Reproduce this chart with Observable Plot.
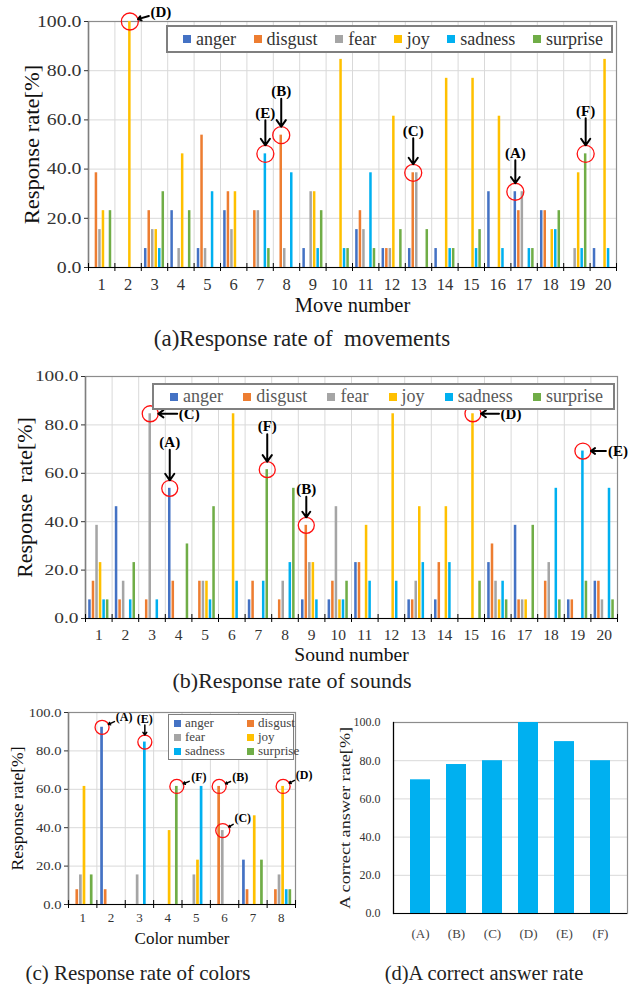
<!DOCTYPE html>
<html>
<head>
<meta charset="utf-8">
<script src="https://cdn.jsdelivr.net/npm/d3@7"></script>
<script src="https://cdn.jsdelivr.net/npm/@observablehq/plot@0.6"></script>
<style>
html,body{margin:0;padding:0;background:#fff;}
#page{position:relative;width:642px;height:984px;overflow:hidden;background:#fff;font-family:"Liberation Serif","Times New Roman",serif;color:#222;}
.panel{position:absolute;}
.panel svg{overflow:visible;}
.cap{position:absolute;white-space:pre;text-align:center;color:#222;}
.legend{position:absolute;background:#fff;box-sizing:border-box;}
.sw{display:inline-block;width:7px;height:7px;margin-right:4px;flex:none;}
.item{display:flex;align-items:center;white-space:nowrap;}
</style>
</head>
<body>
<div id="page"></div>
<script>
// ---------- data ----------
const emotions = ["anger","disgust","fear","joy","sadness","surprise"];
const emotionColors = ["#4472c4","#ed7d31","#a5a5a5","#ffc000","#00b0f0","#70ad47"];
const yTicks = [0,20,40,60,80,100];

// (a) movements
const moveNumbers = [1,2,3,4,5,6,7,8,9,10,11,12,13,14,15,16,17,18,19,20];
const moveAnger    = [0,0,7.7,23.1,7.7,23.1,0,0,7.7,0,15.4,7.7,7.7,7.7,0,30.8,30.8,23.1,0,7.7];
const moveDisgust  = [38.5,0,23.1,0,53.8,30.8,23.1,53.8,0,0,23.1,7.7,38.5,0,0,0,23.1,23.1,0,0];
const moveFear     = [15.4,0,15.4,7.7,7.7,15.4,23.1,7.7,30.8,0,15.4,7.7,38.5,0,0,0,30.8,0,7.7,0];
const moveJoy      = [23.1,100,15.4,46.2,0,30.8,0,0,30.8,84.6,0,61.5,0,76.9,76.9,61.5,0,15.4,38.5,84.6];
const moveSadness  = [0,0,7.7,0,30.8,0,46.2,38.5,7.7,7.7,38.5,0,0,7.7,7.7,7.7,7.7,15.4,7.7,7.7];
const moveSurprise = [23.1,0,30.8,23.1,0,0,7.7,0,23.1,7.7,7.7,15.4,15.4,7.7,15.4,0,7.7,23.1,46.2,0];

// (b) sounds
const soundNumbers = [1,2,3,4,5,6,7,8,9,10,11,12,13,14,15,16,17,18,19,20];
const soundAnger    = [7.7,46.2,0,53.8,0,0,7.7,0,7.7,7.7,23.1,0,7.7,7.7,0,23.1,38.5,0,7.7,15.4];
const soundDisgust  = [15.4,7.7,7.7,15.4,15.4,0,15.4,7.7,38.5,15.4,23.1,0,7.7,23.1,0,30.8,7.7,15.4,7.7,15.4];
const soundFear     = [38.5,15.4,84.6,0,15.4,0,0,15.4,23.1,46.2,0,0,15.4,0,0,15.4,7.7,23.1,0,7.7];
const soundJoy      = [23.1,0,0,0,15.4,84.6,0,0,23.1,7.7,38.5,84.6,46.2,46.2,84.6,7.7,7.7,0,0,0];
const soundSadness  = [7.7,7.7,7.7,0,7.7,15.4,15.4,23.1,7.7,7.7,15.4,15.4,23.1,23.1,0,15.4,0,53.8,69.2,53.8];
const soundSurprise = [7.7,23.1,0,30.8,46.2,0,61.5,53.8,0,15.4,0,0,0,0,15.4,7.7,38.5,7.7,15.4,7.7];

// (c) colors
const colorNumbers = [1,2,3,4,5,6,7,8];
const colorAnger    = [0,92.3,0,0,0,0,23.1,0];
const colorDisgust  = [7.7,7.7,0,0,0,61.5,7.7,7.7];
const colorFear     = [15.4,0,15.4,0,15.4,38.5,0,15.4];
const colorJoy      = [61.5,0,0,38.5,23.1,0,46.2,61.5];
const colorSadness  = [0,0,84.6,0,61.5,0,0,7.7];
const colorSurprise = [15.4,0,0,61.5,0,0,23.1,7.7];

// (d) correct answer rate
const answerLabels = ["(A)","(B)","(C)","(D)","(E)","(F)"];
const answerRates  = [70,78,80,100,90,80];

// annotation targets
const moveMarks = [
  {label:"(D)", group:2,  series:"joy"},
  {label:"(E)", group:7,  series:"sadness"},
  {label:"(B)", group:8,  series:"disgust"},
  {label:"(C)", group:13, series:"disgust"},
  {label:"(A)", group:17, series:"anger"},
  {label:"(F)", group:19, series:"surprise"}
];
const soundMarks = [
  {label:"(C)", group:3,  series:"fear"},
  {label:"(A)", group:4,  series:"anger"},
  {label:"(F)", group:7,  series:"surprise"},
  {label:"(B)", group:9,  series:"disgust"},
  {label:"(D)", group:15, series:"joy"},
  {label:"(E)", group:19, series:"sadness"}
];
const colorMarks = [
  {label:"(A)", group:2, series:"anger"},
  {label:"(E)", group:3, series:"sadness"},
  {label:"(F)", group:4, series:"surprise"},
  {label:"(B)", group:6, series:"disgust"},
  {label:"(C)", group:6, series:"fear"},
  {label:"(D)", group:8, series:"joy"}
];

// ---------- layout (pixel offsets of annotation labels from circle) ----------
const moveMarkOffsets  = [[31,-9],[0,-41],[0,-44],[0,-42],[0,-39],[0,-43]];
const soundMarkOffsets = [[39,0],[0,-46],[0,-43],[0,-36],[38,0],[35,0]];
const colorMarkOffsets = [[22,-10],[0,-23],[22,-9],[21,-9],[20,-12],[21,-11]];

const FONT = '"Liberation Serif","Times New Roman",serif';
const page = document.getElementById("page");

// horizontal stretch of text along its reading direction
function stretch(root, selector, sx) {
  root.querySelectorAll(selector).forEach(t => {
    let tr = t.getAttribute("transform");
    if (!tr) {
      const x = t.getAttribute("x") || 0, y = t.getAttribute("y") || 0;
      t.removeAttribute("x"); t.removeAttribute("y");
      tr = `translate(${x},${y})`;
    }
    t.setAttribute("transform", tr + ` scale(${sx},1)`);
  });
}

function buildRows(groups, series) {
  const rows = [];
  groups.forEach((g, i) => emotions.forEach((e, k) => rows.push({group: g, k, emotion: e, value: series[k][i]})));
  return rows;
}

function groupedPanel(cfg) {
  const {groups, series, left, top, width, height, ml, mr, mt, mb, tickFont, labelFont,
         yLabel, yLabelX, xLabel, xTickPad, xLabelDy, marks, offsets, annFont, r, step, barW, arrowW, headLen,
         yTickStretch, yLabelStretch, xLabelFont} = cfg;
  const n = groups.length;
  const plotW = width - ml - mr, plotH = height - mt - mb;
  const ux = n / plotW, uy = 100 / plotH;
  const rows = buildRows(groups, series).filter(d => d.value > 0);
  const bounds = [groups[0] - 0.5, ...groups.map(g => g + 0.5)];
  const ann = marks.map((a, i) => {
    const k = emotions.indexOf(a.series);
    const gi = groups.indexOf(a.group);
    const cx = a.group + (k - 2.5) * step;
    const cy = series[k][gi];
    const [dx, dy] = offsets[i];
    const L = Math.hypot(dx, dy);
    const vx = -dx / L, vy = -dy / L; // label -> circle direction (px)
    const hw = annFont * 0.8, hh = annFont * 0.5;
    const gap = Math.min(Math.abs(vx) > 1e-6 ? hw / Math.abs(vx) : Infinity,
                         Math.abs(vy) > 1e-6 ? hh / Math.abs(vy) : Infinity);
    const sx = dx + vx * gap, sy = dy + vy * gap;
    const ex = -vx * r, ey = -vy * r;
    return {label: a.label, cx, cy,
      lx: cx + dx * ux, ly: cy - dy * uy,
      ax1: cx + sx * ux, ay1: cy - sy * uy,
      ax2: cx + ex * ux, ay2: cy - ey * uy};
  });
  const plot = Plot.plot({
    width, height, marginLeft: ml, marginRight: mr, marginTop: mt, marginBottom: mb,
    style: {fontFamily: FONT, background: "transparent", color: "#262626", overflow: "visible"},
    x: {domain: [groups[0] - 0.5, groups[n - 1] + 0.5]},
    y: {domain: [0, 100]},
    color: {domain: emotions, range: emotionColors},
    marks: [
      Plot.ruleY(yTicks.slice(1), {stroke: "#d9d9d9", strokeWidth: 1}),
      Plot.ruleX(bounds, {stroke: "#d9d9d9", strokeWidth: 1}),
      Plot.frame({stroke: "#8c8c8c", strokeWidth: 1.2}),
      Plot.rectY(rows, {
        x1: d => d.group + (d.k - 2.5) * step - barW / 2,
        x2: d => d.group + (d.k - 2.5) * step + barW / 2,
        y: "value", fill: "emotion"
      }),
      Plot.ruleX([groups[0] - 0.5], {stroke: "#7f7f7f", strokeWidth: 1.5}),
      Plot.ruleY([0], {stroke: "#000", strokeWidth: 1.2}),
      Plot.ruleX(bounds, {y1: -4 * uy, y2: 4 * uy, stroke: "#000", strokeWidth: 1}),
      Plot.axisY({ticks: yTicks, tickSize: 4, tickPadding: 3, tickFormat: d3.format(".1f"),
                  fontSize: tickFont, fontFamily: FONT, label: null, color: "#333"}),
      Plot.axisX({ticks: groups, tickSize: 0, tickPadding: xTickPad, tickFormat: d => String(d),
                  fontSize: tickFont, fontFamily: FONT, label: null, color: "#333"}),
      Plot.text([yLabel], {text: d => d, frameAnchor: "left", textAnchor: "middle", rotate: -90,
                  dx: -(ml - yLabelX), fontSize: labelFont, fontFamily: FONT, fill: "#111"}),
      Plot.text([xLabel], {text: d => d, frameAnchor: "bottom", textAnchor: "middle", dy: xLabelDy,
                  fontSize: xLabelFont || labelFont, fontFamily: FONT, fill: "#111"}),
      Plot.dot(ann, {x: "cx", y: "cy", r, stroke: "#ff1010", fill: "none", strokeWidth: 1.3}),
      Plot.arrow(ann, {x1: "ax1", y1: "ay1", x2: "ax2", y2: "ay2", stroke: "#000",
                  strokeWidth: arrowW, headLength: headLen, headAngle: 70}),
      Plot.text(ann, {x: "lx", y: "ly", text: "label", fontWeight: "bold", fontSize: annFont,
                  fontFamily: FONT, fill: "#000"})
    ]
  });
  stretch(plot, 'g[aria-label="y-axis tick label"] text', yTickStretch);
  plot.querySelectorAll("text").forEach(t => { if (t.textContent === yLabel) stretch(t.parentNode, "text", yLabelStretch); });
  const div = document.createElement("div");
  div.className = "panel";
  div.style.left = left + "px";
  div.style.top = top + "px";
  div.appendChild(plot);
  page.appendChild(div);
}

function rowLegend({left, top, width, height, fontSize, color, border, padL, padR}) {
  const box = document.createElement("div");
  box.className = "legend";
  Object.assign(box.style, {left: left + "px", top: top + "px", width: width + "px", height: height + "px",
    border, fontSize: fontSize + "px", color, display: "flex", alignItems: "center",
    justifyContent: "space-between", paddingLeft: padL + "px", paddingRight: padR + "px"});
  emotions.forEach((e, i) => {
    const it = document.createElement("div"); it.className = "item";
    const sw = document.createElement("span"); sw.className = "sw"; sw.style.background = emotionColors[i];
    sw.style.width = "8px"; sw.style.height = "8px"; sw.style.marginRight = "5px";
    it.appendChild(sw); it.appendChild(document.createTextNode(e));
    box.appendChild(it);
  });
  page.appendChild(box);
}

function gridLegend({left, top, width, height, fontSize, color, border}) {
  const box = document.createElement("div");
  box.className = "legend";
  Object.assign(box.style, {left: left + "px", top: top + "px", width: width + "px", height: height + "px",
    border, fontSize: fontSize + "px", color, display: "grid", gridTemplateColumns: "73px 1fr",
    alignContent: "center", padding: "0 0 0 5px", lineHeight: "14px"});
  emotions.forEach((e, i) => {
    const it = document.createElement("div"); it.className = "item";
    const sw = document.createElement("span"); sw.className = "sw"; sw.style.background = emotionColors[i];
    it.appendChild(sw); it.appendChild(document.createTextNode(e));
    box.appendChild(it);
  });
  page.appendChild(box);
}

function caption(text, cx, cy, fontSize) {
  const d = document.createElement("div");
  d.className = "cap";
  Object.assign(d.style, {left: (cx - 250) + "px", width: "500px", top: (cy - fontSize * 0.45) + "px",
    fontSize: fontSize + "px", lineHeight: (fontSize * 0.9) + "px"});
  d.textContent = text;
  page.appendChild(d);
}

// (a)
groupedPanel({groups: moveNumbers,
  series: [moveAnger, moveDisgust, moveFear, moveJoy, moveSadness, moveSurprise],
  left: 0, top: 0, width: 642, height: 320, ml: 88, mr: 26, mt: 21, mb: 53,
  tickFont: 16.5, labelFont: 20.5, yLabel: "Response rate[%]", yLabelX: 32, xLabel: "Move number",
  xTickPad: 11, xLabelDy: 44, marks: moveMarks, offsets: moveMarkOffsets, annFont: 15, r: 8.5,
  step: 0.133, barW: 0.095, arrowW: 2, headLen: 6, yTickStretch: 1.2, yLabelStretch: 1.1});
rowLegend({left: 166, top: 25, width: 447, height: 28, fontSize: 18, color: "#333",
  border: "2px solid #7f7f7f", padL: 15, padR: 8});
caption("(a)Response rate of  movements", 302, 339, 23);

// (b)
groupedPanel({groups: soundNumbers,
  series: [soundAnger, soundDisgust, soundFear, soundJoy, soundSadness, soundSurprise],
  left: 0, top: 355, width: 642, height: 320, ml: 85, mr: 25, mt: 21, mb: 57,
  tickFont: 15.5, labelFont: 20.5, xLabelFont: 19.5, yLabel: "Response  rate[%]", yLabelX: 25, xLabel: "Sound number",
  xTickPad: 10, xLabelDy: 42, marks: soundMarks, offsets: soundMarkOffsets, annFont: 15, r: 8,
  step: 0.133, barW: 0.095, arrowW: 2, headLen: 6, yTickStretch: 1.25, yLabelStretch: 1.07});
rowLegend({left: 152, top: 383, width: 463, height: 27, fontSize: 18, color: "#595959",
  border: "2px solid #808080", padL: 16, padR: 10});
caption("(b)Response rate of sounds", 292, 681, 22);

// (c)
groupedPanel({groups: colorNumbers,
  series: [colorAnger, colorDisgust, colorFear, colorJoy, colorSadness, colorSurprise],
  left: 0, top: 700, width: 310, height: 250, ml: 68, mr: 15, mt: 12, mb: 46,
  tickFont: 13, labelFont: 17, yLabel: "Response rate[%]", yLabelX: 17, xLabel: "Color number",
  xTickPad: 8, xLabelDy: 39, marks: colorMarks, offsets: colorMarkOffsets, annFont: 12, r: 7,
  step: 0.127, barW: 0.095, arrowW: 1.5, headLen: 5, yTickStretch: 1.12, yLabelStretch: 1.03});
gridLegend({left: 168, top: 714, width: 126, height: 46, fontSize: 13, color: "#444",
  border: "1.5px solid #7f7f7f"});
caption("(c) Response rate of colors", 138, 973, 21);

// (d)
{
  const answerRows = answerLabels.map((l, i) => ({label: l, rate: answerRates[i]}));
  const dLabel = "A correct answer rate[%]";
  const plot = Plot.plot({
    width: 322, height: 250, marginLeft: 73, marginRight: 15, marginTop: 22, marginBottom: 37,
    style: {fontFamily: FONT, background: "transparent", color: "#262626", overflow: "visible"},
    x: {domain: answerLabels, padding: 0.45},
    y: {domain: [0, 100]},
    marks: [
      Plot.ruleY(yTicks.slice(1), {stroke: "#d9d9d9"}),
      Plot.frame({stroke: "#8c8c8c", strokeWidth: 1.2}),
      Plot.barY(answerRows, {x: "label", y: "rate", fill: "#00b0f0"}),
      Plot.frame({anchor: "left", stroke: "#000", strokeWidth: 1.2}),
      Plot.ruleY([0], {stroke: "#000", strokeWidth: 1.2}),
      Plot.axisY({ticks: yTicks, tickSize: 0, tickPadding: 13, tickFormat: d3.format(".1f"),
                  fontSize: 12, fontFamily: FONT, label: null, color: "#333"}),
      Plot.axisX({tickSize: 0, tickPadding: 15, fontSize: 13, fontFamily: FONT, label: null, color: "#444"}),
      Plot.text([dLabel], {text: d => d, frameAnchor: "left", textAnchor: "middle", rotate: -90, dx: -48,
                  fontSize: 14, fontFamily: FONT, fill: "#222"})
    ]
  });
  plot.querySelectorAll("text").forEach(t => { if (t.textContent === dLabel) stretch(t.parentNode, "text", 1.3); });
  const div = document.createElement("div");
  div.className = "panel";
  div.style.left = "320px"; div.style.top = "700px";
  div.appendChild(plot);
  page.appendChild(div);
}
caption("(d)A correct answer rate", 484, 973, 20.5);
</script>
</body>
</html>
